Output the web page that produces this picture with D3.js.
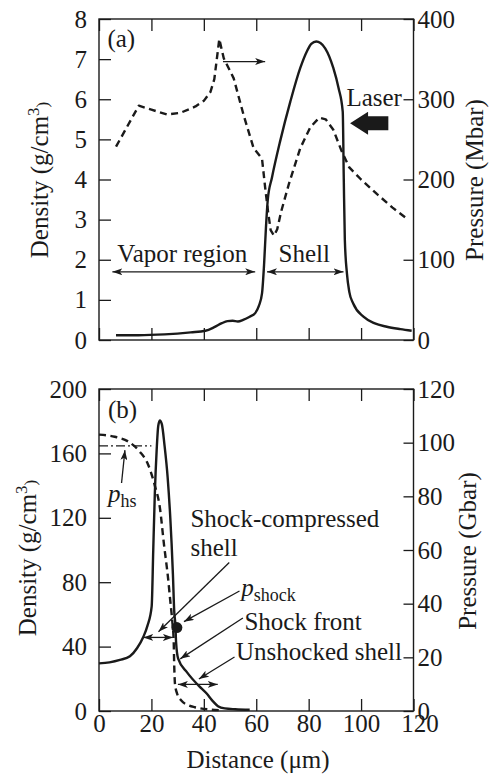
<!DOCTYPE html>
<html lang="en">
<head>
<meta charset="UTF-8">
<title>Density and pressure profiles</title>
<script src="https://cdn.jsdelivr.net/npm/d3@7"></script>
<style>
  body { margin: 0; background: #fff; }
  svg, svg text { font-family: "Liberation Serif", "Tinos", "DejaVu Serif", serif; }
</style>
</head>
<body>
<script>
// ---------- panel (a): density (g/cm3) and pressure (Mbar) ----------
var distDensA = [6.5, 15, 25, 35, 40.6, 44, 46.9, 49, 51, 53, 55, 57.5, 59.6, 61, 62.2, 63, 63.7, 64.4, 66,
                 69.1, 73, 76.8, 79.3, 81, 82.9, 84.5, 86.3, 89.4, 91.4, 93, 93.4, 93.8, 94.6, 95.5, 97,
                 100.9, 105, 109.8, 115, 119.3];
var densA = [0.12, 0.12, 0.14, 0.19, 0.23, 0.32, 0.42, 0.47, 0.48, 0.46, 0.5, 0.58, 0.67, 0.85, 1.16, 1.9, 2.8, 3.5, 4.05,
             4.95, 5.94, 6.78, 7.19, 7.38, 7.44, 7.4, 7.27, 6.78, 6.28, 5.69, 4.0, 2.5, 1.66, 1.2, 0.91,
             0.58, 0.42, 0.33, 0.27, 0.23];
var distPresA = [6.5, 15.2, 20, 26, 31, 36.8, 40, 42.5, 44, 45.9, 47.6, 51.4, 55.2, 59, 62.2, 63.4, 64.5, 65.5,
                 66.8, 68, 69.5, 72.5, 76.8, 80.6, 84, 86.5, 89.4, 92.5, 95.5, 100, 106, 112, 118];
var presA = [241, 292, 287, 281, 283, 291, 298, 309, 325, 375, 351, 326, 280, 239, 226, 190, 160, 137,
             130, 138, 160, 195, 239, 265, 277, 275, 262, 236, 215, 200, 182, 165, 150];

// ---------- panel (b): density (g/cm3) and pressure (Gbar) ----------
var distDensB = [0, 4, 8, 11.8, 14.5, 16.9, 18.5, 20.1, 20.7, 21.3, 22, 22.6, 23.2, 24, 25, 26.2, 27.2, 27.7,
                 28.2, 28.7, 29.2, 29.4, 30.2, 33.6, 38.1, 41, 43.5, 45.4, 48, 52, 57.5];
var densB = [29.6, 30.2, 31.7, 34, 39, 46, 53, 65, 100, 135, 162, 177, 180.5, 178, 165, 145, 120, 104,
             85, 62, 52, 43, 32.5, 24, 15.6, 11, 6, 3, 1.6, 1.1, 0.8];
var distPresB = [0, 6, 11.2, 15.6, 18.8, 21.3, 23.2, 24.8, 26.3, 27.2, 28, 28.5, 28.7, 29, 29.8, 31.5, 34,
                 36.6, 41.6, 46];
var presB = [103, 102.2, 100.4, 96.6, 91.7, 84, 76, 62, 50, 41, 33, 26, 17, 10, 6.5, 3.8, 2.2,
             1.4, 0.6, 0.3];
var pHs = 98.8;                 // Gbar, hot-spot pressure level
var shockPoint = [29.7, 31.1];  // [um, Gbar]

// ---------- ticks ----------
var xTickLabels = [0, 20, 40, 60, 80, 100, 120];
var densTicksA = [0, 1, 2, 3, 4, 5, 6, 7, 8];
var presTicksA = [0, 100, 200, 300, 400];
var densTicksB = [0, 40, 80, 120, 160, 200];
var presTicksB = [0, 20, 40, 60, 80, 100, 120];

var W = 497, H = 776;
var FONT = "'Liberation Serif', 'Tinos', 'DejaVu Serif', serif";
var svg = d3.select("body").append("svg").attr("width", W).attr("height", H)
    .attr("font-family", FONT);
svg.append("rect").attr("width", W).attr("height", H).attr("fill", "#fff");

var ink = "#1a1a1a";
var defs = svg.append("defs");
defs.append("marker")
    .attr("id", "head")
    .attr("viewBox", "0 0 10 7")
    .attr("refX", 10).attr("refY", 3.5)
    .attr("markerWidth", 10).attr("markerHeight", 7)
    .attr("markerUnits", "userSpaceOnUse")
    .attr("orient", "auto-start-reverse")
  .append("path")
    .attr("d", "M0,0 L10,3.5 L0,7 L2.5,3.5 Z")
    .attr("fill", ink);

var x = d3.scaleLinear().domain([0, 120]).range([99, 413.5]);

// panels share the same build
function panel(top, bottom, densMax, densTicks, presMax, presTicks, showX) {
  var yD = d3.scaleLinear().domain([0, densMax]).range([bottom, top]);
  var yP = d3.scaleLinear().domain([0, presMax]).range([bottom, top]);
  var g = svg.append("g");

  var axL = g.append("g").attr("transform", "translate(" + x.range()[0] + ",0)")
      .call(d3.axisLeft(yD).tickValues(densTicks).tickSize(-12).tickPadding(12).tickFormat(d3.format("d")));
  var axR = g.append("g").attr("transform", "translate(" + x.range()[1] + ",0)")
      .call(d3.axisRight(yP).tickValues(presTicks).tickSize(-10).tickPadding(4).tickFormat(d3.format("d")));
  var axB = g.append("g").attr("transform", "translate(0," + bottom + ")")
      .call(d3.axisBottom(x).tickValues(xTickLabels).tickSize(-12).tickPadding(3).tickFormat(showX ? d3.format("d") : ""));
  var axT = g.append("g").attr("transform", "translate(0," + top + ")")
      .call(d3.axisTop(x).tickValues(xTickLabels).tickSize(-12).tickFormat(""));

  [axL, axR, axB, axT].forEach(function (a) {
    a.attr("font-family", FONT);
    a.select(".domain").remove();
    a.selectAll("line").attr("stroke", ink).attr("stroke-width", 1.3);
    a.selectAll("text").attr("font-size", 25).attr("fill", ink);
  });

  g.append("rect")
      .attr("x", x.range()[0]).attr("y", top)
      .attr("width", x.range()[1] - x.range()[0]).attr("height", bottom - top)
      .attr("fill", "none").attr("stroke", ink).attr("stroke-width", 1.4);

  return { g: g, yD: yD, yP: yP, axB: axB };
}

function curve(g, xs, ys, sx, sy, dashed, type) {
  var line = d3.line().x(function (d) { return sx(d[0]); }).y(function (d) { return sy(d[1]); })
      .curve(type || d3.curveMonotoneX);
  g.append("path").datum(d3.zip(xs, ys))
      .attr("d", line)
      .attr("fill", "none")
      .attr("stroke", ink)
      .attr("stroke-width", 2.4)
      .attr("stroke-linejoin", "round")
      .attr("stroke-dasharray", dashed ? "7,4.5" : null);
}

function arrow(g, x1, y1, x2, y2, both) {
  g.append("line")
      .attr("x1", x1).attr("y1", y1).attr("x2", x2).attr("y2", y2)
      .attr("stroke", ink).attr("stroke-width", 1.3)
      .attr("marker-end", "url(#head)")
      .attr("marker-start", both ? "url(#head)" : null);
}

function label(g, px, py, str, size) {
  return g.append("text").attr("x", px).attr("y", py)
      .attr("font-size", size || 25).attr("fill", ink).text(str);
}

function sub(g, px, py, main, subText) {
  var t = g.append("text").attr("x", px).attr("y", py).attr("font-size", 25).attr("fill", ink);
  t.append("tspan").attr("font-style", "italic").text(main);
  t.append("tspan").attr("font-size", 18).attr("dy", 5).text(subText);
  return t;
}

function yTitle(px, py, parts) {
  var t = svg.append("text")
      .attr("transform", "translate(" + px + "," + py + ") rotate(-90)")
      .attr("text-anchor", "middle").attr("font-size", 25).attr("fill", ink);
  parts.forEach(function (p) {
    var s = t.append("tspan").text(p[0]);
    if (p[1]) s.attr("font-size", 17).attr("dy", p[1]);
  });
}

// ---------- (a) ----------
var A = panel(19, 340, 8, densTicksA, 400, presTicksA, false);
curve(A.g, distPresA, presA, x, A.yP, true, d3.curveLinear);
curve(A.g, distDensA, densA, x, A.yD, false);

label(A.g, x(3.2), A.yD(7.31), "(a)");
label(A.g, x(7), A.yD(1.95), "Vapor region");
arrow(A.g, x(5.1), A.yD(1.7), x(59.6), A.yD(1.7), true);
label(A.g, x(68.5), A.yD(1.95), "Shell");
arrow(A.g, x(64.1), A.yD(1.7), x(93.3), A.yD(1.7), true);
arrow(A.g, x(47.3), A.yD(6.94), x(63.4), A.yD(6.94), false);
label(A.g, x(115.6), A.yD(5.82), "Laser").attr("text-anchor", "end");

// laser arrow
(function () {
  var tip = x(95.8), tail = x(110.4), cy = A.yD(5.4), hl = 18, hh = 11.5, sh = 7;
  var pts = [[tip, cy], [tip + hl, cy - hh], [tip + hl, cy - sh], [tail, cy - sh],
             [tail, cy + sh], [tip + hl, cy + sh], [tip + hl, cy + hh]];
  A.g.append("polygon").attr("points", pts.map(function (p) { return p.join(","); }).join(" "))
      .attr("fill", ink);
})();

yTitle(48, 180, [["Density (g/cm"], ["3", -9], [")", 9]]);
yTitle(483, 180, [["Pressure (Mbar)"]]);

// ---------- (b) ----------
var B = panel(389, 711, 200, densTicksB, 120, presTicksB, true);
// last x label sits a little right, as in the original
B.axB.selectAll(".tick text").filter(function (d) { return d === 120; }).attr("dx", 6);
curve(B.g, distPresB, presB, x, B.yP, true);
curve(B.g, distDensB, densB, x, B.yD, false);

B.g.append("line")
    .attr("x1", x(0)).attr("x2", x(20))
    .attr("y1", B.yP(pHs)).attr("y2", B.yP(pHs))
    .attr("stroke", ink).attr("stroke-width", 1.3)
    .attr("stroke-dasharray", "9,3,2,3");

B.g.append("circle")
    .attr("cx", x(shockPoint[0])).attr("cy", B.yP(shockPoint[1]))
    .attr("r", 5.5).attr("fill", ink);

label(B.g, x(3.4), B.yD(182), "(b)");
sub(B.g, x(3.4), B.yD(130), "p", "hs");
arrow(B.g, x(8.6), B.yD(141.6), x(9.9), B.yD(162), false);

label(B.g, x(34.9), B.yD(114.3), "Shock-compressed");
label(B.g, x(34.9), B.yD(96.5), "shell");
arrow(B.g, x(49.7), B.yD(92.2), x(22.7), B.yD(49.2), false);
arrow(B.g, x(16.9), B.yD(45.7), x(28.2), B.yD(45.7), true);

sub(B.g, x(54.3), B.yD(71.4), "p", "shock");
arrow(B.g, x(53.6), B.yD(74.5), x(32.4), B.yD(55.5), false);

label(B.g, x(55.5), B.yD(50.3), "Shock front");
arrow(B.g, x(54.9), B.yD(57.8), x(31), B.yD(32.4), false);

label(B.g, x(52.3), B.yD(31.4), "Unshocked shell");
arrow(B.g, x(51.7), B.yD(33.5), x(38.1), B.yD(19.9), false);
arrow(B.g, x(30.1), B.yD(16.5), x(45.3), B.yD(16.5), true);

yTitle(36, 558, [["Density (g/cm"], ["3", -9], [")", 9]]);
yTitle(476, 551, [["Pressure (Gbar)"]]);

svg.append("text")
    .attr("x", 258).attr("y", 768)
    .attr("text-anchor", "middle").attr("font-size", 25).attr("fill", ink)
    .text("Distance (\u03bcm)");
</script>
</body>
</html>
